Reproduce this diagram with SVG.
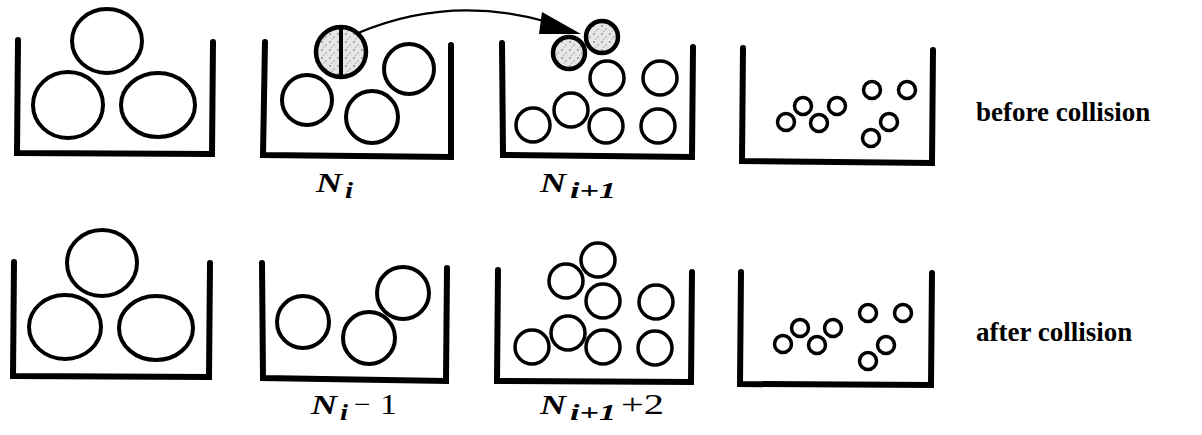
<svg xmlns="http://www.w3.org/2000/svg" width="1202" height="435" viewBox="0 0 1202 435">
<style>
.wall{fill:none;stroke:#000;stroke-width:6;stroke-linejoin:miter;stroke-linecap:round}
.big{fill:none;stroke:#000;stroke-width:4}
.mid{fill:none;stroke:#000;stroke-width:4}
.sm{fill:none;stroke:#000;stroke-width:3.5}
.tiny{fill:none;stroke:#000;stroke-width:3.5}
.hot{fill:url(#speck);stroke:#000;stroke-width:4.5}
.lbl{font-family:"Liberation Serif","Times New Roman",serif;font-size:28px;font-style:italic;font-weight:bold}
.sub{font-family:"Liberation Serif","Times New Roman",serif;font-size:24px;font-style:italic;font-weight:bold}
.op{font-family:"Liberation Serif","Times New Roman",serif;font-size:29px}
.cap{font-family:"Liberation Serif","Times New Roman",serif;font-size:27px;font-weight:bold}
.conn{fill:none;stroke:#000;stroke-width:2.2}
</style>
<defs>
<pattern id="speck" width="8" height="8" patternUnits="userSpaceOnUse">
<rect width="8" height="8" fill="#e6e6e6"/>
<circle cx="2" cy="2" r="0.8" fill="#555"/>
<circle cx="6" cy="5" r="0.7" fill="#777"/>
<circle cx="4" cy="7" r="0.5" fill="#666"/>
</pattern>
</defs>
<rect width="1202" height="435" fill="#fff"/>

<g id="bin-top-1">
<path class="wall" d="M18,40 L17,153 L212,154 L213,42"/>
<ellipse class="big" cx="107" cy="41" rx="35" ry="32"/>
<ellipse class="big" cx="68" cy="105" rx="35" ry="33"/>
<ellipse class="big" cx="158" cy="105" rx="37" ry="32"/>
</g>

<g id="bin-top-2">
<path class="wall" d="M265,42 L263,155 L451,157 L451,45"/>
<circle class="hot" cx="341" cy="52" r="25"/>
<line x1="341" y1="27" x2="341" y2="77" stroke="#000" stroke-width="4"/>
<circle class="mid" cx="409" cy="69" r="25"/>
<circle class="mid" cx="307" cy="100" r="25"/>
<circle class="mid" cx="372" cy="117" r="26"/>
<text class="lbl" x="316" y="192" textLength="26" lengthAdjust="spacingAndGlyphs">N</text>
<text class="sub" x="345" y="198" textLength="8" lengthAdjust="spacingAndGlyphs">i</text>
</g>

<g id="bin-top-3">
<path class="wall" d="M502,43 L503,155 L692,157 L693,47"/>
<circle class="hot" cx="602" cy="37" r="16"/>
<circle class="hot" cx="569" cy="53" r="16"/>
<circle class="sm" cx="607" cy="78" r="17"/>
<circle class="sm" cx="660" cy="78" r="17"/>
<circle class="sm" cx="533" cy="125" r="17"/>
<circle class="sm" cx="571" cy="110" r="17"/>
<circle class="sm" cx="606" cy="126" r="17"/>
<circle class="sm" cx="658" cy="126" r="17"/>
<text class="lbl" x="540" y="192" textLength="26" lengthAdjust="spacingAndGlyphs">N</text>
<text class="sub" x="570" y="198" textLength="46" lengthAdjust="spacingAndGlyphs">i+1</text>
</g>

<g id="bin-top-4">
<path class="wall" d="M743,48 L742,161 L932,163 L933,50"/>
<circle class="tiny" cx="786" cy="122" r="8.5"/>
<circle class="tiny" cx="803" cy="106" r="8.5"/>
<circle class="tiny" cx="819" cy="123" r="8.5"/>
<circle class="tiny" cx="837" cy="106" r="8.5"/>
<circle class="tiny" cx="872" cy="90" r="8.5"/>
<circle class="tiny" cx="907" cy="90" r="8.5"/>
<circle class="tiny" cx="889" cy="122" r="8.5"/>
<circle class="tiny" cx="871" cy="138" r="8.5"/>
</g>

<g id="label-before">
<text class="cap" x="976" y="121">before collision</text>
</g>

<g id="bin-bot-1">
<path class="wall" d="M14,262 L13,376 L209,377 L210,263"/>
<ellipse class="big" cx="102" cy="263" rx="35" ry="33"/>
<ellipse class="big" cx="65" cy="327" rx="36" ry="32"/>
<ellipse class="big" cx="156" cy="328" rx="37" ry="32"/>
</g>

<g id="bin-bot-2">
<path class="wall" d="M262,263 L263,378 L446,381 L447,268"/>
<circle class="mid" cx="303" cy="322" r="26"/>
<circle class="mid" cx="369" cy="338" r="26"/>
<circle class="mid" cx="403" cy="293" r="26"/>
<text class="lbl" x="311" y="414" textLength="26" lengthAdjust="spacingAndGlyphs">N</text>
<text class="sub" x="340" y="420" textLength="8" lengthAdjust="spacingAndGlyphs">i</text>
<text class="op" x="354" y="414">−</text>
<text class="op" x="380" y="414" textLength="17" lengthAdjust="spacingAndGlyphs">1</text>
</g>

<g id="bin-bot-3">
<path class="wall" d="M498,270 L497,381 L691,382 L692,272"/>
<circle class="sm" cx="598" cy="260" r="17"/>
<circle class="sm" cx="566" cy="281" r="17"/>
<circle class="sm" cx="603" cy="301" r="17"/>
<circle class="sm" cx="656" cy="302" r="17"/>
<circle class="sm" cx="532" cy="347" r="17"/>
<circle class="sm" cx="568" cy="333" r="17"/>
<circle class="sm" cx="603" cy="347" r="17"/>
<circle class="sm" cx="655" cy="348" r="17"/>
<text class="lbl" x="540" y="414" textLength="26" lengthAdjust="spacingAndGlyphs">N</text>
<text class="sub" x="570" y="420" textLength="46" lengthAdjust="spacingAndGlyphs">i+1</text>
<text class="op" x="621" y="414" textLength="43" lengthAdjust="spacingAndGlyphs">+2</text>
</g>

<g id="bin-bot-4">
<path class="wall" d="M741,272 L740,384 L931,385 L932,273"/>
<circle class="tiny" cx="783" cy="344" r="8.5"/>
<circle class="tiny" cx="800" cy="328" r="8.5"/>
<circle class="tiny" cx="817" cy="345" r="8.5"/>
<circle class="tiny" cx="833" cy="328" r="8.5"/>
<circle class="tiny" cx="868" cy="313" r="8.5"/>
<circle class="tiny" cx="903" cy="313" r="8.5"/>
<circle class="tiny" cx="886" cy="345" r="8.5"/>
<circle class="tiny" cx="868" cy="361" r="8.5"/>
</g>

<g id="label-after">
<text class="cap" x="976" y="341">after collision</text>
</g>

<g id="connectors">
<path class="conn" d="M358,33 Q450,-6 548,22"/>
<polygon points="581,34 542,12 539,34" fill="#000"/>
</g>
</svg>
